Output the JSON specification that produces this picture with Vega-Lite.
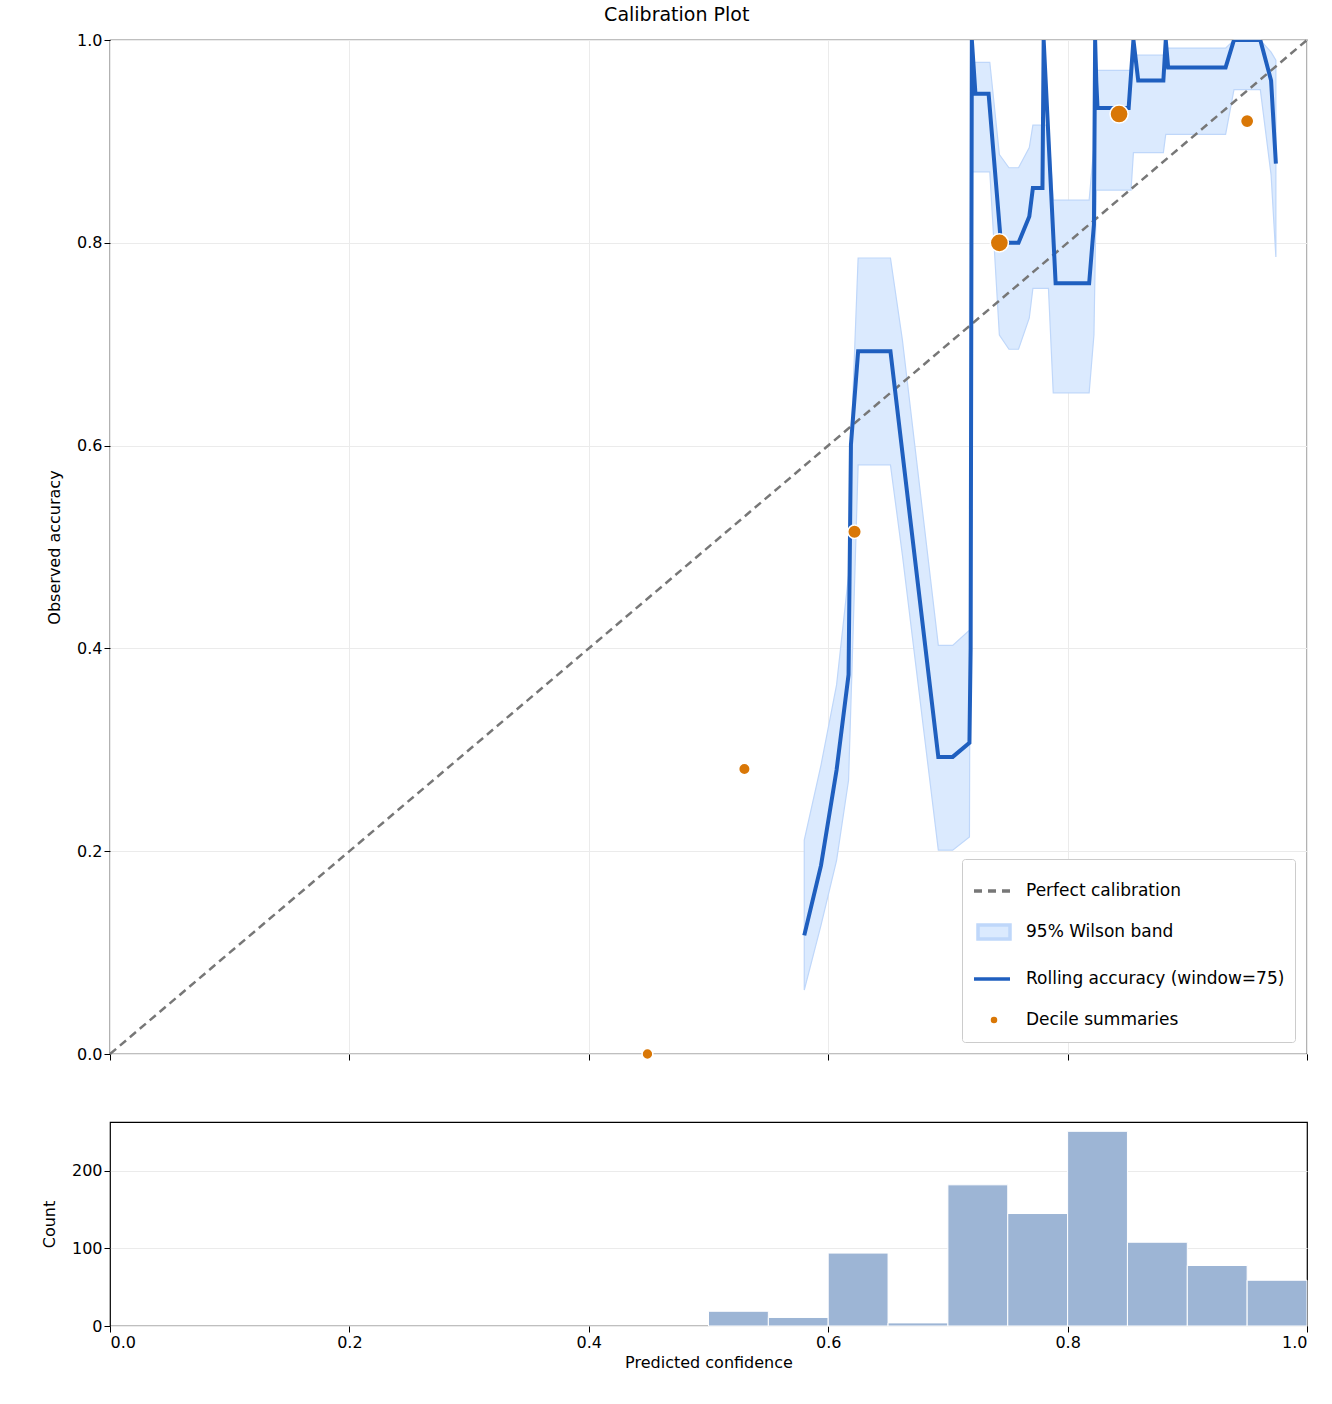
{
  "$schema": "https://vega.github.io/schema/vega-lite/v6.json",
  "title": {"text": "Calibration Plot", "fontSize": 19, "fontWeight": "normal", "font": "DejaVu Sans", "offset": 6, "anchor": "middle"},
  "padding": {"left": 40, "top": 6, "right": 5, "bottom": 0},
  "config": {
    "font": "DejaVu Sans",
    "view": {"stroke": "black", "strokeWidth": 1.2},
    "axis": {"labelFontSize": 16, "titleFontSize": 16, "titleFontWeight": "normal", "labelColor": "black", "titleColor": "black", "tickColor": "black", "domain": false, "gridColor": "#ebebeb", "tickSize": 6}
  },
  "spacing": 57,
  "resolve": {"legend": {"shape": "independent", "fill": "independent", "stroke": "independent", "size": "independent"}},
  "datasets": {
    "line": [
      {"i": 1, "x": 0.580, "y": 0.117}, {"i": 2, "x": 0.594, "y": 0.186}, {"i": 3, "x": 0.607, "y": 0.280},
      {"i": 4, "x": 0.617, "y": 0.374}, {"i": 5, "x": 0.619, "y": 0.601}, {"i": 6, "x": 0.625, "y": 0.693},
      {"i": 7, "x": 0.652, "y": 0.693}, {"i": 8, "x": 0.692, "y": 0.293}, {"i": 9, "x": 0.704, "y": 0.293},
      {"i": 10, "x": 0.718, "y": 0.307}, {"i": 11, "x": 0.719, "y": 0.40}, {"i": 12, "x": 0.720, "y": 1.0},
      {"i": 13, "x": 0.723, "y": 0.947}, {"i": 14, "x": 0.734, "y": 0.947}, {"i": 15, "x": 0.744, "y": 0.804},
      {"i": 16, "x": 0.751, "y": 0.800}, {"i": 17, "x": 0.759, "y": 0.800}, {"i": 18, "x": 0.768, "y": 0.826},
      {"i": 19, "x": 0.771, "y": 0.854}, {"i": 20, "x": 0.779, "y": 0.854}, {"i": 21, "x": 0.780, "y": 1.0},
      {"i": 22, "x": 0.790, "y": 0.760}, {"i": 23, "x": 0.818, "y": 0.760}, {"i": 24, "x": 0.822, "y": 0.818},
      {"i": 25, "x": 0.823, "y": 1.0}, {"i": 26, "x": 0.824, "y": 0.958}, {"i": 27, "x": 0.825, "y": 0.933},
      {"i": 28, "x": 0.851, "y": 0.933}, {"i": 29, "x": 0.855, "y": 1.0}, {"i": 30, "x": 0.859, "y": 0.960},
      {"i": 31, "x": 0.880, "y": 0.960}, {"i": 32, "x": 0.882, "y": 1.0}, {"i": 33, "x": 0.884, "y": 0.973},
      {"i": 34, "x": 0.932, "y": 0.973}, {"i": 35, "x": 0.939, "y": 1.0}, {"i": 36, "x": 0.961, "y": 1.0},
      {"i": 37, "x": 0.970, "y": 0.960}, {"i": 38, "x": 0.974, "y": 0.878}
    ],
    "band": [
      {"x": 0.580, "lo": 0.063, "hi": 0.211}, {"x": 0.594, "lo": 0.127, "hi": 0.285},
      {"x": 0.607, "lo": 0.191, "hi": 0.364}, {"x": 0.617, "lo": 0.270, "hi": 0.472},
      {"x": 0.620, "lo": 0.384, "hi": 0.630}, {"x": 0.625, "lo": 0.581, "hi": 0.785},
      {"x": 0.652, "lo": 0.581, "hi": 0.785}, {"x": 0.662, "lo": 0.492, "hi": 0.704},
      {"x": 0.692, "lo": 0.201, "hi": 0.403}, {"x": 0.704, "lo": 0.201, "hi": 0.403},
      {"x": 0.718, "lo": 0.214, "hi": 0.418}, {"x": 0.7195, "lo": 0.870, "hi": 0.978},
      {"x": 0.735, "lo": 0.870, "hi": 0.978}, {"x": 0.743, "lo": 0.709, "hi": 0.887},
      {"x": 0.751, "lo": 0.695, "hi": 0.874}, {"x": 0.759, "lo": 0.695, "hi": 0.874},
      {"x": 0.768, "lo": 0.726, "hi": 0.894}, {"x": 0.771, "lo": 0.755, "hi": 0.916},
      {"x": 0.784, "lo": 0.755, "hi": 0.916}, {"x": 0.788, "lo": 0.652, "hi": 0.842},
      {"x": 0.818, "lo": 0.652, "hi": 0.842}, {"x": 0.822, "lo": 0.709, "hi": 0.896},
      {"x": 0.824, "lo": 0.852, "hi": 0.970}, {"x": 0.853, "lo": 0.852, "hi": 0.970},
      {"x": 0.855, "lo": 0.889, "hi": 0.985}, {"x": 0.880, "lo": 0.889, "hi": 0.985},
      {"x": 0.882, "lo": 0.907, "hi": 0.992}, {"x": 0.932, "lo": 0.907, "hi": 0.992},
      {"x": 0.939, "lo": 0.951, "hi": 1.0}, {"x": 0.961, "lo": 0.951, "hi": 1.0},
      {"x": 0.970, "lo": 0.867, "hi": 0.988}, {"x": 0.974, "lo": 0.786, "hi": 0.980}
    ],
    "deciles": [
      {"x": 0.449, "y": 0.0, "n": 10}, {"x": 0.530, "y": 0.281, "n": 30},
      {"x": 0.622, "y": 0.515, "n": 100}, {"x": 0.743, "y": 0.800, "n": 300},
      {"x": 0.843, "y": 0.927, "n": 300}, {"x": 0.950, "y": 0.920, "n": 90}
    ],
    "diag": [{"x": 0, "y": 0}, {"x": 1, "y": 1}],
    "legend": [
      {"s": "Perfect calibration"}, {"s": "95% Wilson band"},
      {"s": "Rolling accuracy (window=75)"}, {"s": "Decile summaries"}
    ],
    "hist": [
      {"b0": 0.50, "b1": 0.55, "c": 19}, {"b0": 0.55, "b1": 0.60, "c": 11},
      {"b0": 0.60, "b1": 0.65, "c": 94}, {"b0": 0.65, "b1": 0.70, "c": 4},
      {"b0": 0.70, "b1": 0.75, "c": 182}, {"b0": 0.75, "b1": 0.80, "c": 145},
      {"b0": 0.80, "b1": 0.85, "c": 251}, {"b0": 0.85, "b1": 0.90, "c": 108},
      {"b0": 0.90, "b1": 0.95, "c": 78}, {"b0": 0.95, "b1": 1.00, "c": 59}
    ]
  },
  "vconcat": [
    {
      "width": 1197,
      "height": 1014,
      "layer": [
        {
          "data": {"name": "band"},
          "mark": {"type": "area", "color": "#dbeafe", "stroke": "#bfd7fa", "strokeWidth": 1.2},
          "encoding": {
            "x": {"field": "x", "type": "quantitative", "scale": {"domain": [0, 1]},
                  "axis": {"labels": false, "title": null, "values": [0, 0.2, 0.4, 0.6, 0.8, 1.0]}},
            "y": {"field": "lo", "type": "quantitative", "scale": {"domain": [0, 1]},
                  "axis": {"title": "Observed accuracy", "format": ".1f", "values": [0, 0.2, 0.4, 0.6, 0.8, 1.0], "titlePadding": 14}},
            "y2": {"field": "hi"}
          }
        },
        {
          "data": {"name": "diag"},
          "mark": {"type": "line", "color": "#777777", "strokeWidth": 2.5, "strokeDash": [8, 5]},
          "encoding": {"x": {"field": "x", "type": "quantitative"}, "y": {"field": "y", "type": "quantitative"}}
        },
        {
          "data": {"name": "line"},
          "mark": {"type": "line", "color": "#1f5fbf", "strokeWidth": 4, "clip": true},
          "encoding": {
            "x": {"field": "x", "type": "quantitative"},
            "y": {"field": "y", "type": "quantitative"},
            "order": {"field": "i"}
          }
        },
        {
          "data": {"name": "deciles"},
          "mark": {"type": "circle", "color": "#d97706", "opacity": 1, "stroke": "white", "strokeWidth": 1.5},
          "encoding": {
            "x": {"field": "x", "type": "quantitative"},
            "y": {"field": "y", "type": "quantitative"},
            "size": {"field": "n", "type": "quantitative", "scale": {"range": [110, 330]}, "legend": null}
          }
        },
        {
          "data": {"name": "legend"},
          "transform": [{"filter": "false"}],
          "mark": {"type": "point", "filled": false, "opacity": 1},
          "encoding": {
            "x": {"datum": 0.5, "type": "quantitative"},
            "y": {"datum": 0.5, "type": "quantitative"},
            "shape": {"field": "s", "type": "nominal",
              "scale": {"domain": ["Perfect calibration", "95% Wilson band", "Rolling accuracy (window=75)", "Decile summaries"],
                        "range": ["M-1,0H-0.6M-0.3,0H0.1M0.4,0H0.8", "M-0.8,-0.35H0.8V0.35H-0.8Z", "M-1,0H0.8", "M-0.25,0A0.25,0.25 0 1,0 0.25,0A0.25,0.25 0 1,0 -0.25,0"]},
              "legend": {"title": null, "orient": "bottom-right", "labelFontSize": 17, "symbolSize": 1600,
                         "symbolStrokeWidth": 3.5, "rowPadding": 11, "padding": 10, "offset": 12, "labelOffset": 10,
                         "fillColor": "white", "strokeColor": "#cccccc", "cornerRadius": 3, "labelLimit": 400, "labelColor": "black"}},
            "stroke": {"field": "s", "type": "nominal",
              "scale": {"domain": ["Perfect calibration", "95% Wilson band", "Rolling accuracy (window=75)", "Decile summaries"],
                        "range": ["#777777", "#bfd7fa", "#1f5fbf", "#ffffff"]}},
            "fill": {"field": "s", "type": "nominal",
              "scale": {"domain": ["Perfect calibration", "95% Wilson band", "Rolling accuracy (window=75)", "Decile summaries"],
                        "range": ["transparent", "#dbeafe", "transparent", "#d97706"]}}
          }
        }
      ]
    },
    {
      "width": 1197,
      "height": 204,
      "data": {"name": "hist"},
      "mark": {"type": "rect", "color": "#9db5d5", "stroke": "white", "strokeWidth": 1},
      "encoding": {
        "x": {"field": "b0", "type": "quantitative", "scale": {"domain": [0, 1]},
              "axis": {"title": "Predicted confidence", "format": ".1f", "values": [0, 0.2, 0.4, 0.6, 0.8, 1.0], "grid": false}},
        "x2": {"field": "b1"},
        "y": {"field": "c", "type": "quantitative", "scale": {"domain": [0, 263], "nice": false},
              "axis": {"title": "Count", "values": [0, 100, 200], "titlePadding": 14}},
        "y2": {"datum": 0}
      }
    }
  ]
}
